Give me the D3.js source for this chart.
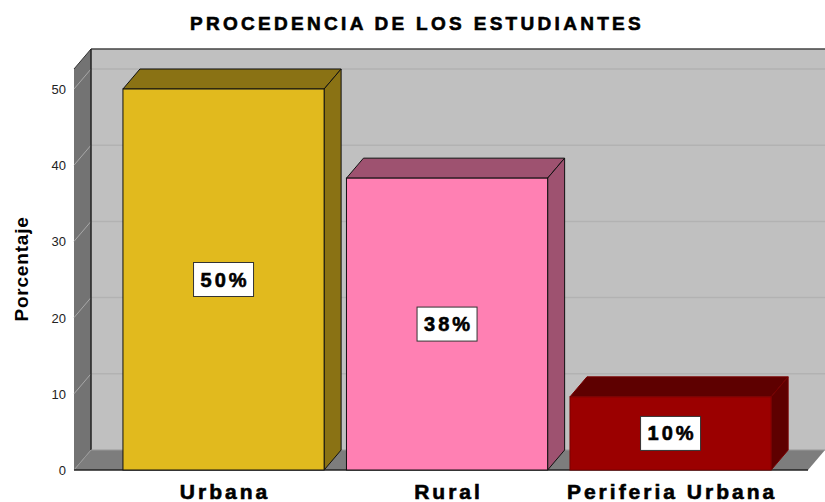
<!DOCTYPE html>
<html>
<head>
<meta charset="utf-8">
<script src="https://cdn.jsdelivr.net/npm/d3@7"></script>
<style>
  body { margin: 0; background: #fff; }
  text { font-family: "Liberation Sans", Arial, sans-serif; }
</style>
</head>
<body>
<svg id="chart" width="825" height="502"></svg>
<script>
const categories = ["Urbana", "Rural", "Periferia Urbana"];
const values = [50.0, 38.3, 9.6];
const valueLabels = ["50%", "38%", "10%"];
const yTicks = [0, 10, 20, 30, 40, 50];
const frontColors = ["#E1BA1E", "#FF80B3", "#9B0000"];
const sideColors = ["#8A7214", "#9E5270", "#5E0000"];
const edgeColors = ["#111", "#111", "#7a0000"];

const svg = d3.select("#chart");
const dx = 17, dy = 20;
const left = 74, right = 808, bottom = 470, wallTop = 69;

const x = d3.scaleBand().domain(categories).range([100.6, 793.5]).paddingInner(0.1).paddingOuter(0.1);
const y = d3.scaleLinear().domain([0, 50]).range([bottom, 89]);

// title
svg.append("text").text("PROCEDENCIA DE LOS ESTUDIANTES")
    .attr("x", 417).attr("y", 30).attr("text-anchor", "middle")
    .style("font-size", "19px").style("font-weight", "bold").style("letter-spacing", "3.3px")
    .style("stroke", "#000").style("stroke-width", 0.6);

// back wall
svg.append("rect")
    .attr("x", left + dx).attr("y", wallTop - dy).attr("width", right - left).attr("height", bottom - wallTop)
    .style("fill", "#C0C0C0");
// left wall
svg.append("path")
    .attr("d", `M${left},${wallTop}L${left + dx},${wallTop - dy}L${left + dx},${bottom - dy}L${left},${bottom}Z`)
    .style("fill", "#737373");
// floor
svg.append("path")
    .attr("d", `M${left},${bottom}L${left + dx},${bottom - dy}L${right + dx},${bottom - dy}L${right},${bottom}Z`)
    .style("fill", "#7d7d7d");

// gridlines
const grid = svg.append("g");
yTicks.filter(d => d > 0).forEach(function(t) {
    grid.append("line")
        .attr("x1", left).attr("y1", y(t)).attr("x2", left + dx).attr("y2", y(t) - dy)
        .style("stroke", "#a8a8a8").style("stroke-width", 1);
    grid.append("line")
        .attr("x1", left + dx).attr("y1", y(t) - dy).attr("x2", right + dx).attr("y2", y(t) - dy)
        .style("stroke", "#b2b2b2").style("stroke-width", 1.5);
});

// wall edges
svg.append("line").attr("x1", left + dx).attr("y1", wallTop - dy).attr("x2", right + dx).attr("y2", wallTop - dy)
    .style("stroke", "#444").style("stroke-width", 1.5);
svg.append("line").attr("x1", left).attr("y1", wallTop).attr("x2", left + dx).attr("y2", wallTop - dy)
    .style("stroke", "#333").style("stroke-width", 1);
svg.append("line").attr("x1", left + dx).attr("y1", wallTop - dy).attr("x2", left + dx).attr("y2", bottom - dy)
    .style("stroke", "#222").style("stroke-width", 1.5);
svg.append("line").attr("x1", left + dx).attr("y1", bottom - dy).attr("x2", left).attr("y2", bottom)
    .style("stroke", "#999").style("stroke-width", 1);
svg.append("line").attr("x1", left + dx).attr("y1", bottom - dy).attr("x2", right + dx).attr("y2", bottom - dy)
    .style("stroke", "#999").style("stroke-width", 1);
svg.append("line").attr("x1", left).attr("y1", bottom).attr("x2", right).attr("y2", bottom)
    .style("stroke", "#222").style("stroke-width", 1.5);

// y tick labels
svg.append("g").selectAll("text")
    .data(yTicks)
    .join("text")
    .attr("x", 66).attr("y", d => y(d) + 5)
    .attr("text-anchor", "end")
    .style("font-size", "13px").style("fill", "#222")
    .text(d => d);

// bars
const bars = svg.append("g").selectAll("g")
    .data(categories)
    .join("g");

bars.append("path")
    .attr("d", function(d, i) {
        const x0 = x(d), x1 = x(d) + x.bandwidth(), t = y(values[i]);
        return `M${x0},${t}L${x0 + dx},${t - dy}L${x1 + dx},${t - dy}L${x1},${t}Z`;
    })
    .style("fill", (d, i) => sideColors[i]).style("stroke", (d, i) => edgeColors[i]).style("stroke-width", 1);

bars.append("path")
    .attr("d", function(d, i) {
        const x1 = x(d) + x.bandwidth(), t = y(values[i]);
        return `M${x1},${t}L${x1 + dx},${t - dy}L${x1 + dx},${bottom - dy}L${x1},${bottom}Z`;
    })
    .style("fill", (d, i) => sideColors[i]).style("stroke", (d, i) => edgeColors[i]).style("stroke-width", 1);

bars.append("rect")
    .attr("x", d => x(d)).attr("y", (d, i) => y(values[i]))
    .attr("width", x.bandwidth()).attr("height", (d, i) => bottom - y(values[i]))
    .style("fill", (d, i) => frontColors[i]).style("stroke", (d, i) => edgeColors[i]).style("stroke-width", 1);

// value labels
bars.append("rect")
    .attr("x", d => x(d) + x.bandwidth() / 2 - 30)
    .attr("y", (d, i) => (y(values[i]) + bottom) / 2 - 17)
    .attr("width", 60).attr("height", 34)
    .style("fill", "#fff").style("stroke", "#333").style("stroke-width", 1);

bars.append("text")
    .attr("x", d => x(d) + x.bandwidth() / 2 + 1.5)
    .attr("y", (d, i) => (y(values[i]) + bottom) / 2 + 7)
    .attr("text-anchor", "middle")
    .style("font-size", "20px").style("font-weight", "bold").style("letter-spacing", "3px")
    .style("stroke", "#000").style("stroke-width", 0.6)
    .text((d, i) => valueLabels[i]);

// category labels
svg.append("g").selectAll("text")
    .data(categories)
    .join("text")
    .attr("x", d => x(d) + x.bandwidth() / 2 + 1.5)
    .attr("y", 499)
    .attr("text-anchor", "middle")
    .style("font-size", "21px").style("font-weight", "bold").style("letter-spacing", "3px")
    .style("stroke", "#000").style("stroke-width", 0.6)
    .text(d => d);

// y axis title
svg.append("text").text("Porcentaje")
    .attr("transform", "translate(28,269) rotate(-90)")
    .attr("text-anchor", "middle")
    .style("font-size", "19px").style("font-weight", "bold").style("letter-spacing", "0.8px");
</script>
</body>
</html>
